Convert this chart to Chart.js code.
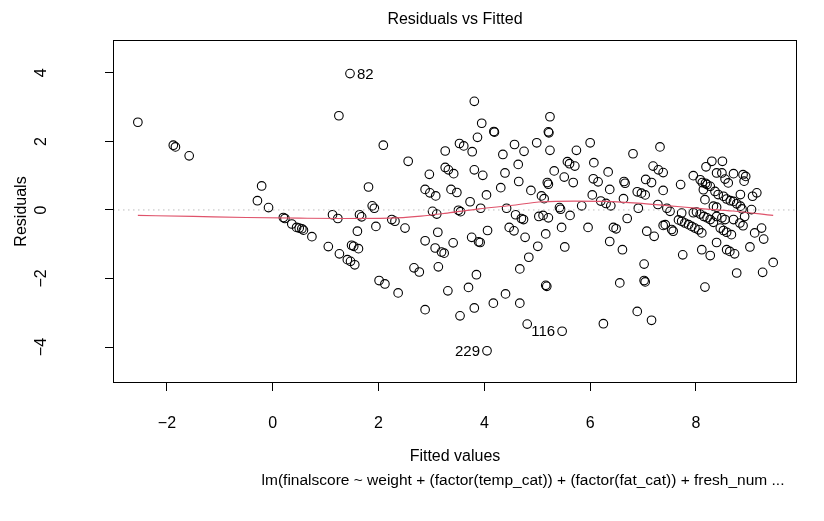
<!DOCTYPE html>
<html lang="en">
<head>
  <meta charset="UTF-8" />
  <title>Residuals vs Fitted</title>
  <script src="https://cdn.jsdelivr.net/npm/chart.js"></script>
  <style>
    html, body { margin: 0; padding: 0; background: #fff; }
    #wrap { width: 824px; height: 521px; }
  </style>
</head>
<body>
  <div id="wrap"><canvas id="residChart" width="824" height="521"></canvas></div>

  <script>
    // values
    const fitted = [
      -2.55, -1.88, -1.84, -1.58, -0.21, -0.29, -0.08, 0.20, 0.23, 0.36, 0.45, 0.50, 0.55, 0.58, 0.74,
      1.05, 1.13, 1.23, 1.26, 1.41, 1.47, 1.55, 1.49, 1.53, 1.62, 1.25, 1.46,
      2.09, 2.56, 1.81, 1.88, 1.92, 1.64, 1.68, 1.60, 1.95, 2.25, 2.31, 2.50, 2.01, 2.12, 2.37, 2.67, 2.77, 2.88,
      3.81, 3.95, 4.18, 4.19, 3.87, 3.53, 3.61, 3.77, 3.26, 4.57, 4.75, 4.99, 4.35, 4.64, 3.81, 3.97, 4.39, 4.65,
      3.26, 3.32, 3.42, 2.96, 4.31, 4.88, 2.88, 2.97, 3.08, 3.37, 3.48, 4.04, 3.73, 3.02, 3.10, 3.51, 3.55, 3.93,
      4.42, 4.59, 4.70, 4.74, 5.03, 3.12, 2.88, 3.07, 3.19, 3.24, 3.41, 3.13, 3.76, 3.89, 3.92, 4.06, 3.85, 3.70,
      3.31, 3.54, 3.81, 4.17, 4.40, 4.67, 4.67, 4.84, 4.77, 4.47, 4.56, 5.01, 4.81, 4.05,
      5.24, 5.21, 5.22, 5.24, 5.74, 6.00, 5.57, 5.61, 5.71, 5.32, 5.51, 5.68, 5.19, 5.21, 5.08, 5.13, 6.07, 6.34,
      6.06, 6.15, 6.37, 6.04, 6.20, 6.30, 6.39, 5.84, 5.42, 5.44, 6.81, 7.32, 6.64, 6.66, 7.05, 7.16, 7.19, 7.29,
      7.38, 6.89, 6.97, 7.04, 7.38, 6.63, 6.91, 7.28, 7.45, 5.11, 5.21, 5.62, 5.46, 5.16, 5.52, 5.16, 5.18, 5.96,
      6.70, 6.44, 6.49, 6.37, 6.61, 7.07, 7.21, 7.38, 7.02, 6.56, 7.02, 7.04, 6.89, 7.16, 6.25, 5.47,
      7.71, 7.95, 8.19, 8.30, 8.50, 8.08, 8.12, 8.18, 8.21, 8.27, 8.39, 8.49, 8.71, 8.89, 8.94, 8.91, 8.55, 8.61,
      8.14, 8.36, 8.42, 8.52, 8.58, 8.65, 8.84, 9.07, 9.15, 8.17, 8.33, 8.39, 8.71, 8.77, 8.84, 8.87, 9.05,
      7.51, 7.73, 7.95, 8.01, 8.08, 8.15, 8.21, 8.27, 8.33, 8.39, 8.49, 8.55, 8.46, 8.52, 8.58, 8.67, 8.71, 8.83,
      8.89, 8.92, 9.24, 9.11, 9.28, 8.39, 8.11, 8.27, 7.75, 8.58, 8.64, 8.73, 9.02, 9.46, 8.77, 9.26, 8.17,
      7.42, 7.57, 7.54, 7.67, 7.73, 7.79, 7.86, 7.92, 7.98, 8.05, 8.11
    ];
    const residuals = [
      2.56, 1.89, 1.84, 1.58, 0.70, 0.27, 0.07, -0.22, -0.25, -0.41, -0.51, -0.53, -0.55, -0.59, -0.78,
      -1.07, -0.14, -0.25, -1.28, -1.45, -1.50, -1.60, -1.03, -1.06, -1.13, 2.75, 3.98,
      1.89, 1.42, 0.67, 0.12, 0.05, -0.14, -0.20, -0.62, -0.48, -0.28, -0.33, -0.53, -2.06, -2.16, -2.42, -1.69, -1.81, -2.91,
      3.17, 2.53, 2.29, 2.27, 2.12, 1.94, 1.87, 1.70, 1.72, 1.91, 1.71, 1.96, 1.62, 1.33, 1.17, 1.01, 1.08, 0.83,
      1.24, 1.17, 1.06, 1.04, 0.65, 0.57, 0.60, 0.50, 0.41, 0.60, 0.51, 0.44, 0.24, -0.04, -0.12, -0.01, -0.05, 0.05,
      0.05, -0.14, -0.25, -0.28, -0.19, -0.65, -0.90, -1.11, -1.23, -1.26, -0.96, -1.66, -0.80, -0.93, -0.95, -0.60, -1.89, -2.26,
      -2.36, -3.09, -2.86, -2.72, -2.45, -2.72, -1.72, -1.38, -0.80, -0.51, -0.61, -1.06, -3.33, -4.11,
      2.72, 2.28, 2.25, 1.74, 1.74, 1.96, 1.41, 1.35, 1.28, 1.14, 0.96, 0.80, 0.80, 0.75, 0.41, 0.33, 1.38, 1.11,
      0.91, 0.82, 0.60, 0.44, 0.26, 0.19, 0.12, 0.12, 0.07, 0.02, 1.64, 1.84, 0.83, 0.78, 0.89, 0.80, 1.28, 1.17,
      1.09, 0.53, 0.49, 0.44, 0.57, 0.33, 0.05, 0.16, 0.05, -0.16, -0.23, -0.16, -0.51, -0.70, -1.08, -2.20, -2.23, -0.51,
      -0.25, -0.51, -0.55, -0.92, -1.16, -0.62, -0.77, -0.45, -1.58, -2.13, -2.06, -2.10, -2.96, -3.22, -3.32, -3.54,
      0.74, 1.00, 1.26, 1.42, 1.42, 0.88, 0.80, 0.78, 0.74, 0.69, 1.08, 1.08, 1.06, 1.03, 0.98, 0.84, 0.90, 0.79,
      0.59, 0.54, 0.45, 0.40, 0.32, 0.27, 0.45, 0.40, 0.50, 0.30, 0.11, 0.08, 0.25, 0.18, 0.11, 0.03, 0.01,
      -0.04, -0.09, -0.08, -0.06, -0.12, -0.19, -0.23, -0.28, -0.36, -0.19, -0.23, -0.28, -0.53, -0.60, -0.65, -0.72, -0.28, -0.38,
      -0.46, -0.19, -0.53, -0.67, -0.85, -0.95, -1.16, -1.33, -1.31, -1.16, -1.21, -1.28, -1.08, -1.53, -1.84, -1.82, -2.25,
      -0.43, -0.62, -0.57, -0.29, -0.33, -0.38, -0.43, -0.48, -0.53, -0.58, -0.67
    ];

    // smoother (red line)
    const smoothX = [-2.55, -1.5, -0.5, 0.5, 1.3, 2.2, 2.8, 3.3, 3.9, 4.5, 5.1, 5.7, 6.3, 6.9, 7.5, 8.1, 8.7, 9.46];
    const smoothY = [-0.16, -0.19, -0.22, -0.24, -0.25, -0.24, -0.18, -0.09, 0.03, 0.13, 0.24, 0.26, 0.25, 0.20, 0.12, 0.04, -0.03, -0.16];

    // labelled observations
    const idLabels = ['82', '229', '116'];
    const idFitted = [1.46, 4.05, 5.47];
    const idResid = [3.98, -4.11, -3.54];
    const idSide = ['right', 'left', 'left'];

    const xTicks = [-2, 0, 2, 4, 6, 8];
    const yTicks = [-4, -2, 0, 2, 4];
    const xMin = -3.02, xMax = 9.91;
    const yMin = -5.05, yMax = 4.96;

    const subCaption = 'lm(finalscore ~ weight + (factor(temp_cat)) + (factor(fat_cat)) + fresh_num ...';

    const FONT = "'Liberation Sans', Arial, sans-serif";
    Chart.defaults.font.family = FONT;
    Chart.defaults.color = '#000';

    const minus = v => String(v).replace('-', '\u2212');

    const frameAndIds = {
      id: 'frameAndIds',
      afterDatasetsDraw(chart) {
        const { ctx, chartArea: a, scales } = chart;
        ctx.save();
        ctx.strokeStyle = '#000';
        ctx.lineWidth = 1;
        ctx.strokeRect(a.left + 0.5, a.top + 0.5, a.right - a.left - 1, a.bottom - a.top - 1);
        ctx.fillStyle = '#000';
        ctx.font = '15px ' + FONT;
        ctx.textBaseline = 'middle';
        idLabels.forEach((lab, i) => {
          const px = scales.x.getPixelForValue(idFitted[i]);
          const py = scales.y.getPixelForValue(idResid[i]);
          if (idSide[i] === 'right') {
            ctx.textAlign = 'left';
            ctx.fillText(lab, px + 7, py + 1);
          } else {
            ctx.textAlign = 'right';
            ctx.fillText(lab, px - 7, py + 1);
          }
        });
        // sub caption under the x title
        ctx.font = '15.5px ' + FONT;
        ctx.textAlign = 'center';
        ctx.fillText(subCaption, a.left + (a.right - a.left) / 2 + 68, 481);
        ctx.restore();
      }
    };

    new Chart(document.getElementById('residChart'), {
      type: 'scatter',
      data: {
        datasets: [
          {
            label: 'smooth',
            data: smoothX.map((v, i) => ({ x: v, y: smoothY[i] })),
            showLine: true,
            borderColor: '#DF536B',
            borderWidth: 1.2,
            pointRadius: 0,
            tension: 0.4,
            cubicInterpolationMode: 'monotone'
          },
          {
            label: 'zero',
            data: [{ x: xMin, y: 0 }, { x: xMax, y: 0 }],
            showLine: true,
            borderColor: '#BEBEBE',
            borderWidth: 1,
            borderDash: [1.5, 3.5],
            pointRadius: 0
          },
          {
            label: 'residuals',
            data: fitted.map((v, i) => ({ x: v, y: residuals[i] })),
            pointStyle: 'circle',
            pointRadius: 4.3,
            pointBorderWidth: 1.1,
            borderColor: '#000',
            backgroundColor: 'rgba(0,0,0,0)'
          }
        ]
      },
      options: {
        responsive: false,
        animation: false,
        events: [],
        layout: { padding: { top: 0, right: 27, bottom: 0, left: 0 } },
        plugins: {
          legend: { display: false },
          tooltip: { enabled: false }
        },
        scales: {
          x: {
            type: 'linear',
            position: 'bottom',
            min: xMin,
            max: xMax,
            afterBuildTicks: s => { s.ticks = xTicks.map(v => ({ value: v })); },
            afterFit: s => { s.height = 138; s.paddingLeft = 0; s.paddingRight = 0; },
            grid: { drawOnChartArea: false, drawTicks: true, tickLength: 8, color: '#000', lineWidth: 1 },
            border: { display: false },
            ticks: { padding: 23, maxRotation: 0, font: { size: 16 }, callback: v => minus(v) },
            title: {
              display: true,
              text: 'Fitted values',
              font: { size: 16 },
              padding: { top: 0, bottom: 54.4 }
            }
          },
          xTop: {
            type: 'linear',
            position: 'top',
            min: xMin,
            max: xMax,
            afterFit: s => { s.height = 40; s.paddingLeft = 0; s.paddingRight = 0; },
            grid: { display: false },
            border: { display: false },
            ticks: { display: false },
            title: {
              display: true,
              text: 'Residuals vs Fitted',
              font: { size: 16 },
              padding: { top: 10.4, bottom: 0 }
            }
          },
          y: {
            type: 'linear',
            position: 'left',
            min: yMin,
            max: yMax,
            afterBuildTicks: s => { s.ticks = yTicks.map(v => ({ value: v })); },
            afterFit: s => { s.width = 113; s.paddingTop = 0; s.paddingBottom = 0; },
            grid: { drawOnChartArea: false, drawTicks: true, tickLength: 8, color: '#000', lineWidth: 1 },
            border: { display: false },
            ticks: { padding: 54, minRotation: 90, maxRotation: 90, crossAlign: 'center', font: { size: 16 }, callback: v => minus(v) },
            title: {
              display: true,
              text: 'Residuals',
              font: { size: 16 },
              padding: { top: 12.4, bottom: 0 }
            }
          }
        }
      },
      plugins: [frameAndIds]
    });
  </script>
</body>
</html>
